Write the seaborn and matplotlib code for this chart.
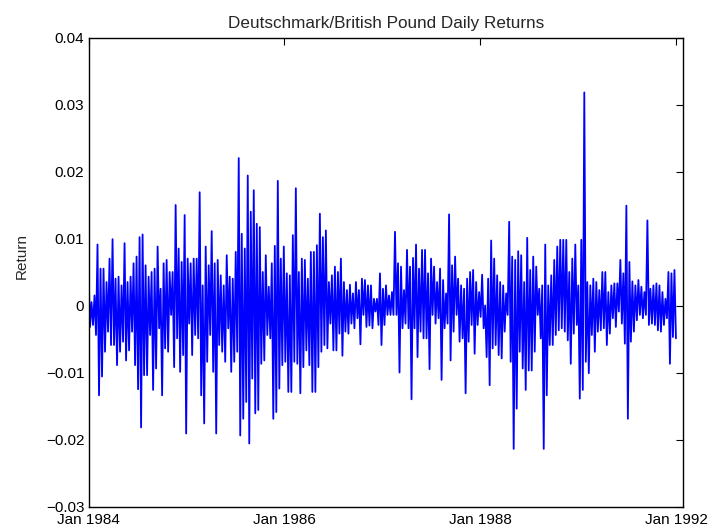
import numpy as np
import pandas as pd
import matplotlib
matplotlib.use("Agg")
import matplotlib.pyplot as plt
import seaborn as sns

# upper / lower extent of the daily returns, read as a sequence of short
# stretches across the chart (units of 0.001)
hi_84 = [5.0, 0.5, 1.5, 9.1, 5.5, 5.5, 3.5, 7.0, 9.9, 4.0, 4.3, 3.0, 9.3, 3.5,
         4.3, 6.3, 7.3, 10.2, 10.6, 6.0, 4.3, 5.0, 5.5, 8.8, 2.5, 6.3, 6.8, 5.0]
lo_84 = [-3.2, -2.9, -4.4, -13.4, -10.6, -6.9, -3.9, -5.9, -5.9, -8.9, -6.9, -5.4, -8.2, -6.7,
         -3.9, -8.9, -12.5, -18.2, -10.4, -10.4, -4.4, -12.6, -9.4, -3.4, -13.4, -6.4, -6.9, -1.4]
hi_85 = [5.0, 15.0, 8.5, 6.5, 13.5, 7.0, 6.3, 7.0, 7.0, 16.9, 3.0, 8.8, 6.0, 11.1,
         6.3, 6.8, 4.5, 3.0, 7.5, 4.3, 4.0, 8.0, 22.0, 10.7, 8.5, 19.4, 14.0, 17.2]
lo_85 = [-9.2, -4.9, -9.9, -7.4, -19.1, -2.7, -7.4, -4.4, -4.9, -13.4, -17.6, -8.4, -4.4, -9.9,
         -19.1, -5.9, -6.9, -8.4, -3.4, -9.9, -8.4, -6.9, -19.4, -16.9, -14.4, -20.6, -10.9, -16.1]
hi_86 = [12.2, 11.7, 5.0, 7.5, 2.8, 6.3, 8.9, 18.6, 7.0, 8.8, 4.8, 4.5, 10.5, 17.5,
         5.0, 7.0, 6.8, 4.0, 8.0, 8.0, 9.0, 13.7, 10.2, 11.2, 3.5, 4.5, 5.8, 5.0]
lo_86 = [-15.6, -8.7, -8.2, -4.4, -4.9, -16.9, -15.9, -12.4, -8.9, -8.4, -12.9, -12.9, -8.4, -8.7,
         -13.1, -9.2, -6.7, -8.9, -12.9, -12.9, -9.2, -6.9, -5.9, -6.4, -2.7, -6.7, -6.7, -4.2]
hi_87 = [7.0, 3.5, 2.3, 3.1, 1.8, 3.5, 2.3, 4.0, 3.8, 3.0, 3.0, 1.0, 1.0, 4.8,
         2.5, 3.0, 1.5, 2.0, 11.0, 6.3, 5.8, 2.3, 8.3, 5.8, 7.1, 9.1, 5.5, 8.3]
lo_87 = [-7.5, -3.9, -4.2, -2.7, -3.4, -1.9, -5.8, -1.4, -3.2, -3.0, -3.4, -0.9, -2.9, -5.9,
         -2.9, -1.4, -1.4, -1.4, -1.4, -10.0, -3.4, -2.7, -3.4, -14.0, -3.4, -7.7, -3.9, -4.9]
hi_88 = [8.3, 4.8, 7.0, 5.8, 3.5, 5.5, 3.8, 1.8, 13.6, 6.0, 7.3, 4.0, 3.0, 2.5,
         4.0, 5.0, 5.3, 3.5, 2.0, 4.6, 0.0, 4.0, 9.7, 7.0, 4.5, 3.5, 3.0, 1.8]
lo_88 = [-4.9, -9.5, -1.4, -2.7, -1.9, -11.1, -3.4, -2.7, -8.2, -3.9, -1.4, -5.4, -4.9, -13.1,
         -5.4, -2.9, -7.2, -2.9, -1.7, -3.4, -7.7, -11.9, -6.4, -5.9, -7.4, -7.9, -3.9, -1.4]
hi_89 = [12.5, 7.3, 6.8, 8.1, 7.5, 3.5, 10.1, 5.3, 7.3, 5.8, 2.5, 3.0, 9.1, 3.0,
         4.5, 6.8, 8.8, 9.8, 9.8, 9.8, 5.0, 7.0, 9.1, 3.0, 9.8, 31.8, 3.5, 3.0]
lo_89 = [-8.4, -21.4, -15.4, -6.9, -9.4, -12.6, -9.7, -9.7, -6.9, -1.4, -4.9, -21.4, -13.4, -5.9,
         -5.9, -4.4, -3.7, -3.4, -3.9, -5.2, -8.7, -4.2, -2.9, -13.9, -12.6, -8.4, -10.1, -4.4]
hi_90 = [4.0, 3.5, 2.3, 5.0, 5.0, 2.0, 3.0, 3.3, 3.3, 6.8, 4.8, 14.9, 6.5, 3.6,
         3.0, 3.8, 2.8, 2.0, 12.7, 2.5, 3.0, 3.3, 3.0, 2.0, 1.0, 5.0, 4.8, 5.3]
lo_90 = [-6.9, -3.9, -3.7, -3.4, -5.9, -4.2, -1.9, -3.2, -0.9, -2.7, -5.7, -16.9, -5.4, -3.9,
         -2.2, -1.4, -1.9, -1.4, -2.9, -2.7, -2.9, -3.7, -3.9, -2.9, -1.9, -8.7, -4.7, -4.9]

date_labels = ['Jan 1984', 'Jan 1986', 'Jan 1988', 'Jan 1992']
y_ticks = [-0.03, -0.02, -0.01, 0, 0.01, 0.02, 0.03, 0.04]
y_labels = ['\u22120.03', '\u22120.02', '\u22120.01', '0', '0.01', '0.02', '0.03', '0.04']

# put highs and lows one after the other so the line swings between them
hi = np.array(hi_84 + hi_85 + hi_86 + hi_87 + hi_88 + hi_89 + hi_90)
lo = np.array(lo_84 + lo_85 + lo_86 + lo_87 + lo_88 + lo_89 + lo_90)
ret = np.column_stack([hi, lo]).ravel() / 1000.0
db = pd.DataFrame({'obs': np.arange(len(ret)), 'Return': ret})

sns.set_style("white")
plt.rcParams['font.family'] = ['Liberation Sans', 'DejaVu Sans']

fig = plt.figure(figsize=(7.16, 5.31), dpi=100)
ax = fig.add_axes([88.5 / 716, 1 - 506.5 / 531, (683 - 88.5) / 716, (506.5 - 37.5) / 531])

sns.lineplot(data=db, x='obs', y='Return', color='#0000ff', lw=1.3,
             estimator=None, sort=False, ax=ax)

n = len(ret) - 1
ax.set_xlim(0, n * 1.012)
ax.set_xticks(np.linspace(0, n, 4))
ax.set_xticklabels(date_labels)
ax.set_ylim(-0.03, 0.04)
ax.set_yticks(y_ticks)
ax.set_yticklabels(y_labels)

ax.tick_params(direction='in', top=True, right=True, length=5, width=0.8,
               labelsize=11, colors='black')
ax.tick_params(axis='y', pad=3)
ax.tick_params(axis='x', pad=5)
for sp in ax.spines.values():
    sp.set_color('black')
    sp.set_linewidth(1.0)

ax.set_xlabel('')
ax.set_ylabel('Return', fontsize=11)
ax.yaxis.set_label_coords(-0.1, 0.535)
ax.set_title('Deutschmark/British Pound Daily Returns', fontsize=12.3, pad=7)

fig.savefig('out.png', dpi=100)
